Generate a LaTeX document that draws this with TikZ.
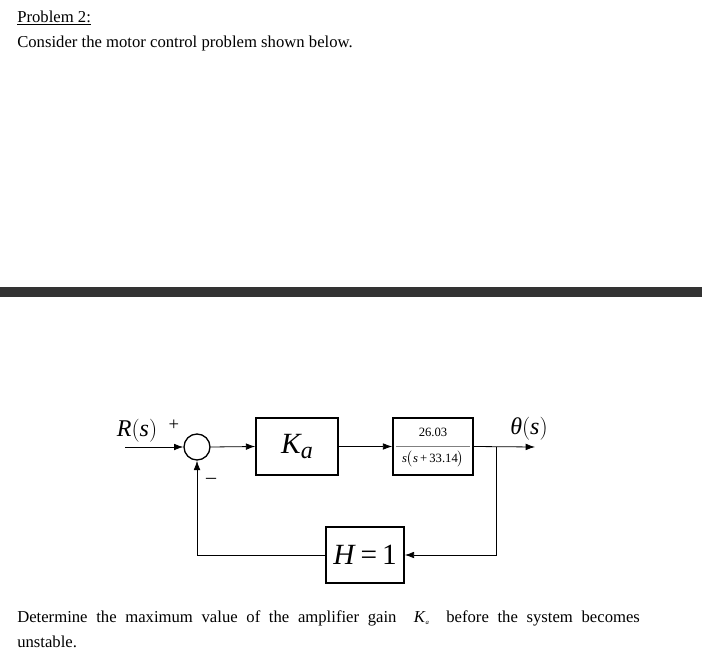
\documentclass[tikz,border=0pt]{standalone}
\usepackage{fontspec}
\setmainfont{Liberation Serif}
\usetikzlibrary{arrows.meta}
\begin{document}
\begin{tikzpicture}[x=0.75pt,y=-0.75pt,
  ln/.style={line width=0.6pt},
  arr/.style={ln,-{Latex[length=7pt,width=5pt]}}]
\useasboundingbox (0,0) rectangle (702,666);
\node[anchor=west,inner sep=0,font=\fontsize{12.5}{14}\selectfont] (t1) at (17,18) {\underline{Problem 2:}};
\node[anchor=west,inner sep=0,font=\fontsize{12.5}{14}\selectfont] (t2) at (17,43) {Consider the motor control problem shown below.};
\fill[black!80] (0,287) rectangle (702,297);
\node[draw,circle,line width=1pt,minimum size=19.5pt,inner sep=0] (sum) at (197,447) {};
\coordinate (in) at (125,447);
\node[draw,line width=1.2pt,minimum width=61.5pt,minimum height=42.75pt] (ka) at (297,446.5) {\fontsize{22}{24}\selectfont\itshape K\raisebox{-0.35ex}{\fontsize{18}{20}\selectfont a}};
\node[draw,line width=1.2pt,minimum width=60pt,minimum height=42.75pt,inner sep=0] (g) at (433,446.5) {};
\node[font=\fontsize{9.5}{10}\selectfont] (num) at (433,432) {26.03};
\draw[gray,line width=0.4pt] (396,446) -- (470,446);
\node[font=\fontsize{9.5}{10}\selectfont] (den) at (433,459) {\textit{s}$\bigl($\textit{s}\,+\,33.14$\bigr)$};
\node[draw,line width=1.2pt,minimum width=58.5pt,minimum height=42pt] (h) at (365,555) {\fontsize{22}{24}\selectfont\textit{H}\,=\,1};
\coordinate (out) at (535,447);
\coordinate (br) at (496,447);
\draw[arr] (in) -- (sum.west);
\draw[arr] (sum.east) -- (ka.west);
\draw[arr] (ka.east) -- (g.west);
\draw[arr] (g.east) -- (out);
\draw[arr] (br) |- (h.east);
\draw[arr] (h.west) -| (sum.south);
\node[font=\fontsize{18}{20}\selectfont] (R) at (137,431) {\textit{R}$\bigl($\textit{s}$\bigr)$};
\node[font=\fontsize{14}{14}\selectfont] (plus) at (174,425) {+};
\node[font=\fontsize{15}{15}\selectfont] (minus) at (211,481) {--};
\node[font=\fontsize{18}{20}\selectfont] (th) at (529,429) {\textit{θ}$\bigl($\textit{s}$\bigr)$};
\node[anchor=north west,font=\fontsize{12.5}{19}\selectfont,text width=467pt,align=justify,inner sep=0] (t3) at (17,610) {Determine the maximum value of the amplifier gain \ \textit{K}\raisebox{-0.3ex}{\tiny\textit{a}} \ before the system becomes\linebreak unstable.};
\end{tikzpicture}
\end{document}
